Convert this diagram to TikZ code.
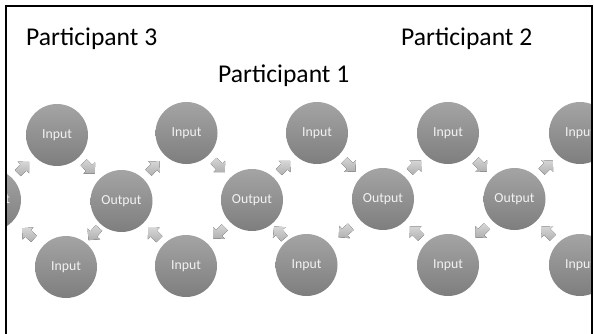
\documentclass[tikz,border=0pt]{standalone}
\usepackage{fontspec}
\setmainfont{Carlito}
\usetikzlibrary{calc}

\definecolor{discTop}{RGB}{164,164,164}
\definecolor{discBot}{RGB}{126,126,126}
\definecolor{discText}{RGB}{242,242,242}
\definecolor{arrowTop}{RGB}{214,214,214}
\definecolor{arrowBot}{RGB}{176,176,176}

\tikzset{
  disc/.style={circle, minimum size=62pt, inner sep=0pt,
    top color=discTop, bottom color=discBot, draw=none,
    text=discText, font=\fontsize{13.8}{16}\selectfont},
  arrowfill/.style={top color=arrowTop, bottom color=arrowBot, draw=none},
  heading/.style={anchor=base west, inner sep=0pt,
    font=\fontsize{25.6}{30}\selectfont},
  frame/.style={line width=1.8pt, black}
}

% block arrow half-way between two nodes, pointing from #1 to #2
\newcommand\cyclearrow[2]{%
  \pgfmathanglebetweenpoints{\pgfpointanchor{#1}{center}}{\pgfpointanchor{#2}{center}}%
  \let\arrang\pgfmathresult
  \begin{scope}[shift={($(#1.center)!0.5!(#2.center)$)}, rotate=\arrang]
    \fill[arrowfill] (-8,-4.3) -- (0,-4.3) -- (0,-8.2) -- (8,0) -- (0,8.2)
      -- (0,4.3) -- (-8,4.3) -- cycle;
  \end{scope}}

\begin{document}
\begin{tikzpicture}[x=1pt, y=-1pt]
  \useasboundingbox (0,0) rectangle (594,334);

  \begin{scope}
    \clip (6,6) rectangle (592,334);
    % outputs
    \node[disc] (out0) at (-10,200) {Output};
    \node[disc] (out1) at (121.5,201) {Output};
    \node[disc] (out2) at (252,200) {Output};
    \node[disc] (out3) at (383,199) {Output};
    \node[disc] (out4) at (514.5,199) {Output};
    % upper inputs
    \node[disc] (t1) at (57,135) {Input};
    \node[disc] (t2) at (186.5,133) {Input};
    \node[disc] (t3) at (317,133) {Input};
    \node[disc] (t4) at (448,133) {Input};
    \node[disc] (t5) at (580,133) {Input};
    % lower inputs
    \node[disc] (b1) at (66,267) {Input};
    \node[disc] (b2) at (186,266) {Input};
    \node[disc] (b3) at (306.5,265) {Input};
    \node[disc] (b4) at (448,265) {Input};
    \node[disc] (b5) at (580,265) {Input};

    % cycle arrows
    \cyclearrow{out0}{t1}
    \cyclearrow{b1}{out0}
    \cyclearrow{t1}{out1}
    \cyclearrow{out1}{t2}
    \cyclearrow{b2}{out1}
    \cyclearrow{out1}{b1}
    \cyclearrow{t2}{out2}
    \cyclearrow{out2}{t3}
    \cyclearrow{b3}{out2}
    \cyclearrow{out2}{b2}
    \cyclearrow{t3}{out3}
    \cyclearrow{out3}{t4}
    \cyclearrow{b4}{out3}
    \cyclearrow{out3}{b3}
    \cyclearrow{t4}{out4}
    \cyclearrow{out4}{t5}
    \cyclearrow{b5}{out4}
    \cyclearrow{out4}{b4}
  \end{scope}

  % open frame: left, top and right sides
  \coordinate (fbl) at (6,334);
  \coordinate (ftl) at (6,6);
  \coordinate (ftr) at (592,6);
  \coordinate (fbr) at (592,334);
  \draw[frame] (fbl) -- (ftl) -- (ftr) -- (fbr);

  \node[heading] (p3) at (26,46) {Participant 3};
  \node[heading] (p1) at (218,83) {Participant 1};
  \node[heading] (p2) at (401,46) {Participant 2};
\end{tikzpicture}
\end{document}
